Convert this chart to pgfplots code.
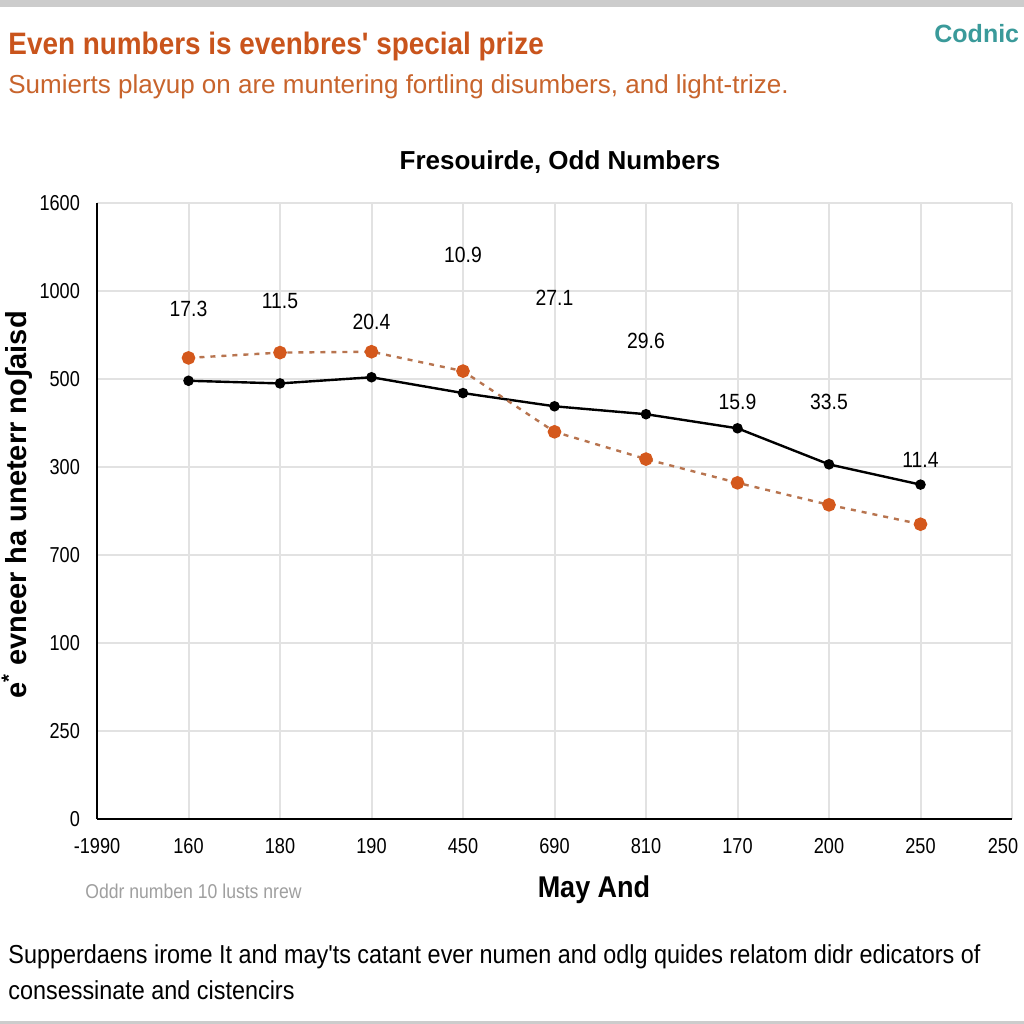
\documentclass[border=0pt]{standalone}
\usepackage{pgfplots}
\pgfplotsset{compat=1.18}
\usepackage{fontspec}
\setmainfont{Liberation Sans}
\newfontfamily\condfont{Liberation Sans}[FakeStretch=0.9]
\newfontfamily\narrowfont{Liberation Sans}[FakeStretch=0.88]
\newfontfamily\ticksfont{Liberation Sans}[FakeStretch=0.84]
\newfontfamily\plainfont{Liberation Sans}
\definecolor{titleorange}{HTML}{C9541C}
\definecolor{suborange}{HTML}{C8642C}
\definecolor{tealc}{HTML}{3A9A9A}
\definecolor{dotline}{HTML}{B8744F}
\definecolor{markorange}{HTML}{D4581C}
\definecolor{gridgray}{HTML}{E2E2E2}
\begin{document}
\begin{tikzpicture}[x=0.5pt,y=0.5pt]
\useasboundingbox (0,0) rectangle (1024,1024);
\fill[white] (0,0) rectangle (1024,1024);
\fill[gray!40] (0,1017) rectangle (1024,1024);
\fill[gray!40] (0,0) rectangle (1024,3);
\node[anchor=west, text=titleorange, inner sep=0pt] at (8,978) {\condfont\bfseries\fontsize{15.5}{18}\selectfont Even numbers is evenbres' special prize};
\node[anchor=west, text=suborange, inner sep=0pt] at (8,937) {\plainfont\fontsize{13}{15}\selectfont Sumierts playup on are muntering fortling disumbers, and light-trize.};
\node[anchor=west, text=tealc, inner sep=0pt] at (934,990) {\plainfont\bfseries\fontsize{12.5}{15}\selectfont Codnic};
\node[inner sep=0pt] at (560,862) {\plainfont\bfseries\fontsize{13}{15}\selectfont Fresouirde, Odd Numbers};
\node[rotate=90, inner sep=0pt] at (17,519) {\plainfont\bfseries\fontsize{14.5}{16}\selectfont e\textsuperscript{*} evneer ha uneterr noʃaisd};
\node[anchor=west, text=gray!75, inner sep=0pt] at (85,133) {\narrowfont\fontsize{10}{12}\selectfont Oddr numben 10 lusts nrew};
\node[inner sep=0pt] at (594,134) {\condfont\bfseries\fontsize{15}{17}\selectfont May And};
\node[anchor=west, inner sep=0pt] at (8,67) {\condfont\fontsize{13}{15}\selectfont Supperdaens irome It and may'ts catant ever numen and odlg quides relatom didr edicators of};
\node[anchor=west, inner sep=0pt] at (8,34) {\condfont\fontsize{13}{15}\selectfont consessinate and cistencirs};
\begin{axis}[
  at={(48.5pt,102.5pt)}, anchor=south west,
  scale only axis, width=457.5pt, height=308pt,
  xmin=0, xmax=10, ymin=0, ymax=7,
  axis x line*=bottom, axis y line*=left,
  axis line style={line width=1.4pt, black},
  xtick={0,...,10}, ytick={0,...,7},
  xticklabels={-1990,160,180,190,450,690,810,170,200,250,{\hspace*{-9pt}250}},
  yticklabels={0,250,100,700,300,500,1000,1600},
  grid=major, major grid style={line width=1pt, gridgray},
  major tick length=0pt,
  ticklabel style={font=\ticksfont\fontsize{10.8}{12}\selectfont},
  xticklabel style={yshift=-6pt},
  yticklabel style={xshift=-5pt},
  /pgf/number format/assume math mode=true,
  clip=false,
]
\addplot[black, line width=1.2pt, mark=*, mark size=2pt] coordinates {(1,4.98)(2,4.95)(3,5.02)(4,4.84)(5,4.69)(6,4.60)(7,4.44)(8,4.03)(9,3.80)};
\addplot[dotline, line width=1.2pt, dash pattern=on 2.5pt off 3pt, mark=*, mark size=2.8pt, mark options={solid, draw=markorange, fill=markorange}] coordinates {(1,5.24)(2,5.30)(3,5.31)(4,5.09)(5,4.40)(6,4.09)(7,3.82)(8,3.57)(9,3.35)};
\addplot[only marks, mark=none, nodes near coords, point meta=explicit symbolic,
  nodes near coords style={anchor=center, font=\narrowfont\fontsize{11}{13}\selectfont}]
  table[meta=label] {
x y label
1 5.795 17.3
2 5.886 11.5
3 5.648 20.4
4 6.409 10.9
5 5.920 27.1
6 5.432 29.6
7 4.739 15.9
8 4.739 33.5
9 4.080 11.4
};
\end{axis}
\end{tikzpicture}
\end{document}
